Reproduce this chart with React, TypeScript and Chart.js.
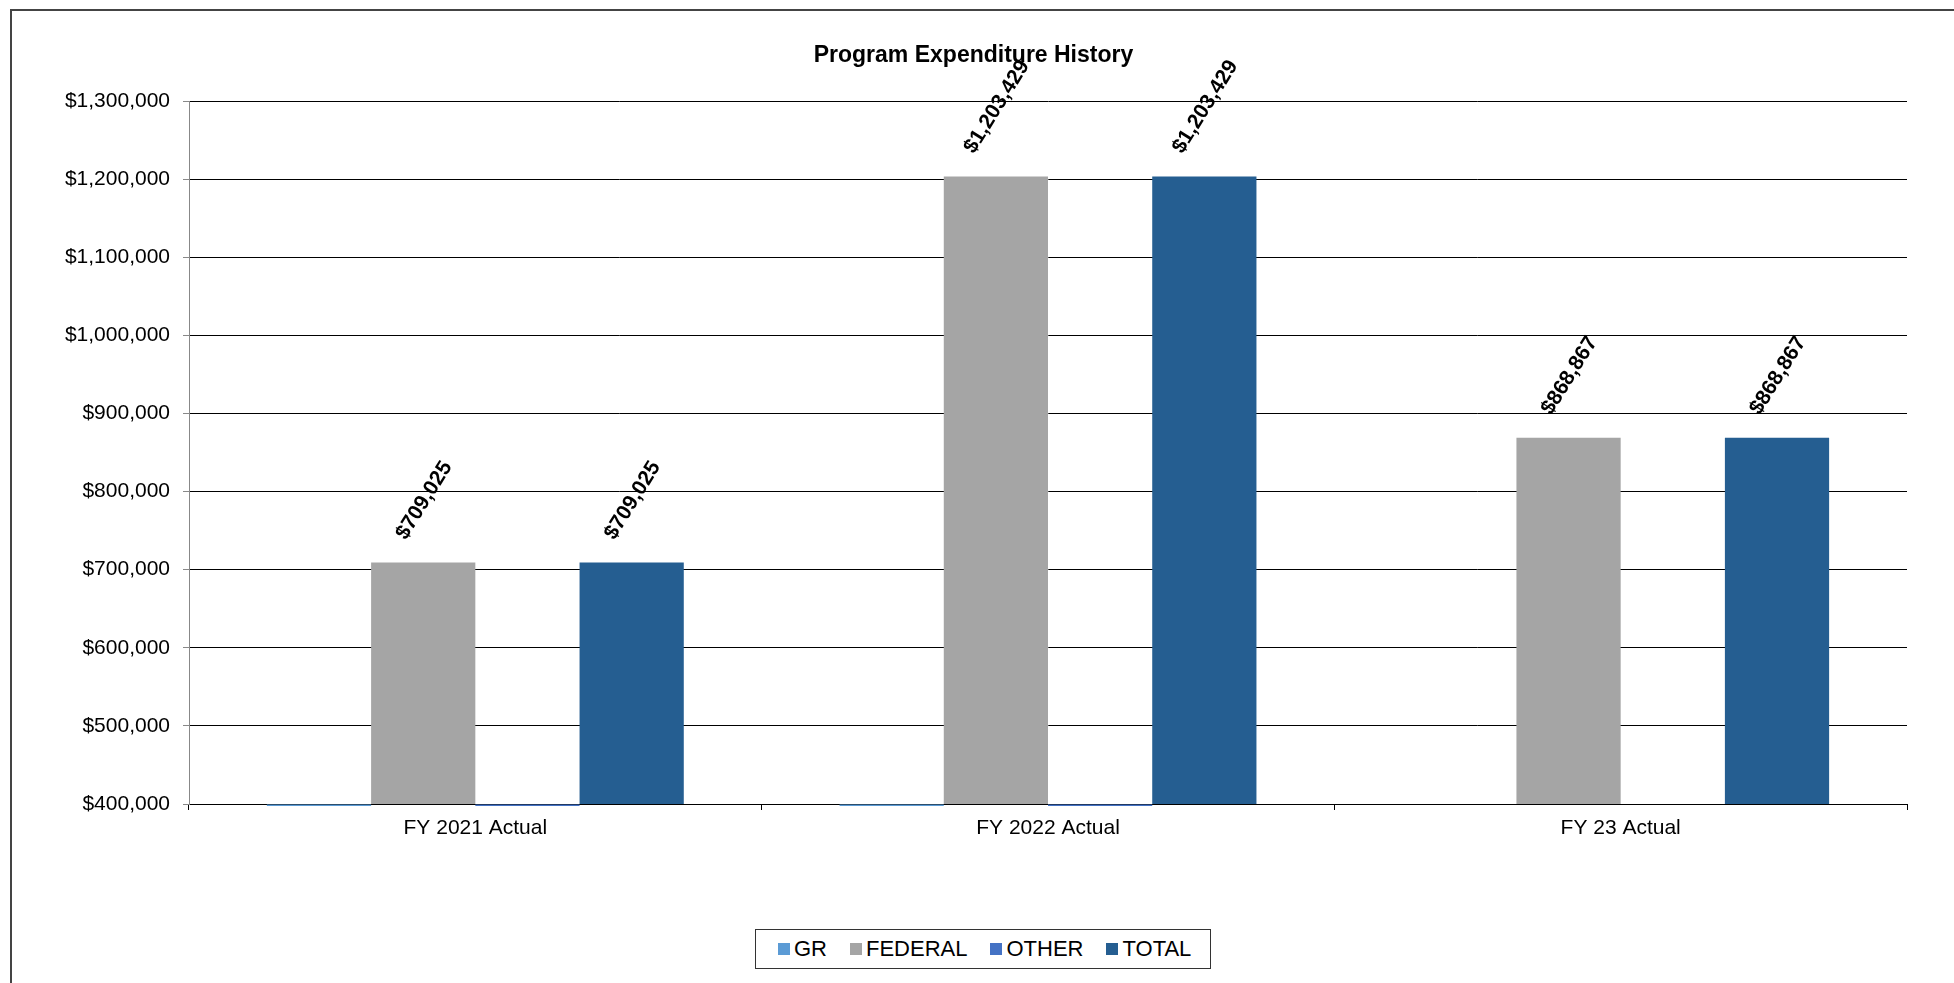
import React, { useEffect, useRef } from "react";
import { Chart, registerables } from "chart.js";

Chart.register(...registerables);

const categories = ["FY 2021 Actual", "FY 2022 Actual", "FY 23 Actual"];
const grValues = [0, 0, null];
const federalValues = [709025, 1203429, 868867];
const otherValues = [0, 0, null];
const totalValues = [709025, 1203429, 868867];

const seriesNames = ["GR", "FEDERAL", "OTHER", "TOTAL"];
const seriesColors = ["#5B9BD5", "#A5A5A5", "#4472C4", "#255E91"];
const labeledSeries = ["FEDERAL", "TOTAL"];

const yMin = 400000;
const yMax = 1300000;
const yStep = 100000;

const FONT = '"Liberation Sans", Arial, sans-serif';

const money = (v: number) => "$" + Math.round(v).toLocaleString("en-US");

const barLabelPlugin = {
  id: "barLabels",
  afterDatasetsDraw(chart: any) {
    const ctx = chart.ctx;
    chart.data.datasets.forEach((ds: any, di: number) => {
      if (!labeledSeries.includes(ds.label)) return;
      const meta = chart.getDatasetMeta(di);
      meta.data.forEach((bar: any, i: number) => {
        const v = ds.data[i];
        if (v == null || v === 0) return;
        const text = money(v);
        ctx.save();
        ctx.font = "bold 21px " + FONT;
        const w = ctx.measureText(text).width;
        const h = 15;
        const a = (58 * Math.PI) / 180;
        const ext = w * Math.sin(a) + h * Math.cos(a);
        ctx.translate(bar.x + 1, bar.y - 21 - ext / 2);
        ctx.rotate(-a);
        ctx.textAlign = "center";
        ctx.textBaseline = "middle";
        ctx.fillStyle = "#000";
        ctx.fillText(text, 0, 0);
        ctx.restore();
      });
    });
  },
};

export default function App() {
  const canvasRef = useRef<HTMLCanvasElement | null>(null);

  useEffect(() => {
    if (!canvasRef.current) return;
    const values = [grValues, federalValues, otherValues, totalValues];
    const chart = new Chart(canvasRef.current, {
      type: "bar",
      data: {
        labels: categories,
        datasets: seriesNames.map((name, i) => {
          const isZeroSeries = name === "GR" || name === "OTHER";
          const ds: any = {
            label: name,
            data: values[i],
            backgroundColor: seriesColors[i],
            borderWidth: 0,
            categoryPercentage: 0.728,
            barPercentage: 1.0,
            clip: { left: 0, top: 0, right: 0, bottom: isZeroSeries ? 2 : 0 },
          };
          if (isZeroSeries) ds.base = yMin;
          return ds;
        }),
      },
      options: {
        responsive: false,
        maintainAspectRatio: false,
        animation: false,
        devicePixelRatio: 1,
        layout: { padding: { top: 101, right: 47, left: 0, bottom: 0 } },
        plugins: {
          legend: { display: false },
          title: { display: false },
          tooltip: { enabled: false },
        },
        scales: {
          x: {
            type: "category",
            grid: {
              display: true,
              offset: true,
              drawOnChartArea: false,
              drawTicks: true,
              tickLength: 6,
              color: "#000",
              tickColor: "#000",
            },
            border: { display: true, color: "#000", width: 1 },
            ticks: {
              color: "#000",
              font: { family: FONT, size: 21 },
              padding: 6,
              maxRotation: 0,
              autoSkip: false,
            },
            afterFit(scale: any) {
              scale.height = 179;
            },
          },
          y: {
            type: "linear",
            min: yMin,
            max: yMax,
            grid: {
              color: "#000",
              tickColor: "#888",
              tickLength: 6,
              drawTicks: true,
            },
            border: { display: true, color: "#888", width: 1 },
            ticks: {
              stepSize: yStep,
              color: "#000",
              font: { family: FONT, size: 21 },
              padding: 13,
              callback: (v: any) => money(Number(v)),
            },
            afterFit(scale: any) {
              scale.width = 189;
            },
          },
        },
      },
      plugins: [barLabelPlugin],
    } as any);
    return () => chart.destroy();
  }, []);

  return (
    <div
      style={{
        position: "fixed",
        left: 0,
        top: 0,
        width: 1954,
        height: 983,
        background: "#fff",
        overflow: "hidden",
        fontFamily: FONT,
      }}
    >
      <div
        style={{
          position: "absolute",
          left: 10,
          top: 9,
          width: 2100,
          height: 1100,
          borderLeft: "2px solid #444",
          borderTop: "2px solid #444",
          boxSizing: "border-box",
        }}
      />
      <canvas
        ref={canvasRef}
        width={1954}
        height={983}
        style={{ position: "absolute", left: 0, top: 0, width: 1954, height: 983 }}
      />
      <div
        style={{
          position: "absolute",
          left: 0,
          top: 43,
          width: 1947,
          textAlign: "center",
          fontSize: 23,
          lineHeight: "23px",
          fontWeight: "bold",
          color: "#000",
        }}
      >
        Program Expenditure History
      </div>
      <div
        style={{
          position: "absolute",
          left: 755,
          top: 929,
          width: 456,
          height: 40,
          border: "1px solid #333",
          boxSizing: "border-box",
          display: "flex",
          alignItems: "center",
          paddingLeft: 22,
          background: "#fff",
        }}
      >
        {seriesNames.map((name, i) => (
          <div
            key={name}
            style={{
              display: "flex",
              alignItems: "center",
              marginRight: i < seriesNames.length - 1 ? 23 : 0,
            }}
          >
            <span
              style={{
                display: "inline-block",
                width: 12,
                height: 12,
                background: seriesColors[i],
                marginRight: 4,
              }}
            />
            <span style={{ fontSize: 22, color: "#000" }}>{name}</span>
          </div>
        ))}
      </div>
    </div>
  );
}
